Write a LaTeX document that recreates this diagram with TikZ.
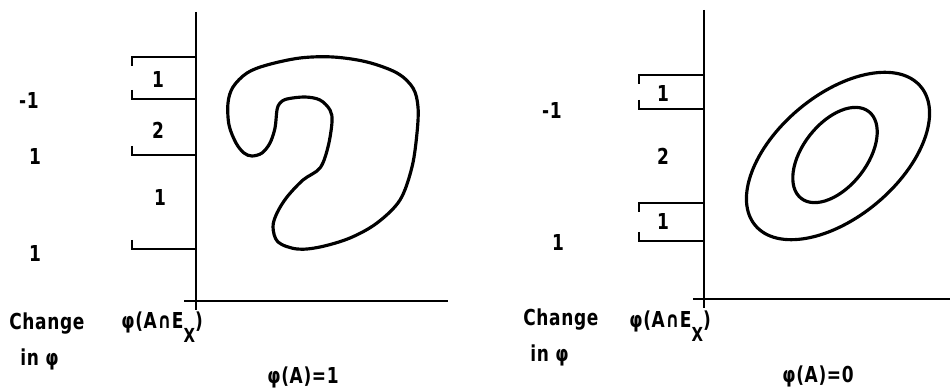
\documentclass[tikz,border=0pt]{standalone}
\usepackage{fontspec}
\setmainfont{DejaVu Sans Condensed}[FakeStretch=0.86,LetterSpace=3]
\usetikzlibrary{positioning}
\tikzset{
    axis/.style={line width=1.1pt},
    bracket/.style={line width=0.85pt},
    contour/.style={line width=1.8pt,line join=round},
    lbl/.style={font=\bfseries\fontsize{12.5}{14}\selectfont,inner sep=0pt},
    txt/.style={lbl,anchor=base west}
}
\newcommand{\subx}{\raisebox{-1.2ex}{\fontsize{11}{12}\selectfont X}}

\begin{document}
\begin{tikzpicture}[x=0.02cm,y=0.02cm]
    \useasboundingbox (0,0) rectangle (950,-388);
    % left panel
    \draw[axis] (196,-12) -- (196,-310);
    \draw[axis] (184,-301) -- (448,-301);
    \draw[bracket] (132,-66) -- (132,-57) -- (196,-57);
    \draw[bracket] (132,-90) -- (132,-99) -- (196,-99);
    \draw[bracket] (132,-146) -- (132,-155) -- (196,-155);
    \draw[bracket] (132,-240) -- (132,-249) -- (196,-249);
    \node[lbl] (ln1) at (158,-79) {1};
    \node[lbl] (ln2) at (158,-130) {2};
    \node[lbl] (ln3) at (160,-197) {1};
    \node[lbl] (lc1) at (29,-100) {-1};
    \node[lbl] (lc2) at (35,-156) {1};
    \node[lbl] (lc3) at (35,-253) {1};
    \node[txt] (lchg) at (9,-329) {Change};
    \node[txt] (lin)  at (20,-365) {in φ};
    \node[txt] (lphi) at (121,-328) {φ(A∩E\subx)};
    \node[txt] (lval) at (267,-383) {φ(A)=1};
    \draw[contour] plot[smooth cycle,tension=0.55] coordinates {
        (277,-110) (280,-103) (287,-99) (305,-97) (320,-100) (330,-110)
        (332,-122) (328,-147) (320,-168) (303,-180) (287,-197) (277,-213)
        (273,-227) (278,-242) (297,-249) (320,-247) (350,-238) (377,-223)
        (400,-200) (412,-167) (417,-133) (418,-107) (413,-88) (397,-73)
        (367,-62) (333,-57) (300,-58) (267,-65) (247,-73) (233,-87)
        (228,-103) (229,-125) (236,-143) (244,-153) (252,-156) (262,-153)
        (270,-143) (275,-128)};
    % right panel
    \draw[axis] (704,-10) -- (704,-308);
    \draw[axis] (693,-299) -- (950,-299);
    \draw[bracket] (639,-84) -- (639,-75) -- (704,-75);
    \draw[bracket] (639,-100) -- (639,-109) -- (704,-109);
    \draw[bracket] (639,-212) -- (639,-203) -- (704,-203);
    \draw[bracket] (639,-232) -- (639,-241) -- (704,-241);
    \node[lbl] (rn1) at (663,-93) {1};
    \node[lbl] (rn2) at (663,-156) {2};
    \node[lbl] (rn3) at (663,-221) {1};
    \node[lbl] (rc1) at (552,-110) {-1};
    \node[lbl] (rc2) at (558,-242) {1};
    \node[txt] (rchg) at (523,-325) {Change};
    \node[txt] (rin)  at (530,-361) {in φ};
    \node[txt] (rphi) at (629,-327) {φ(A∩E\subx)};
    \node[txt] (rval) at (782,-382) {φ(A)=0};
    \draw[contour,rotate around={40:(838,-156)}] (838,-156) ellipse [x radius=108,y radius=61];
    \draw[contour,rotate around={52:(835,-155)}] (835,-155) ellipse [x radius=55,y radius=32];
\end{tikzpicture}
\end{document}
